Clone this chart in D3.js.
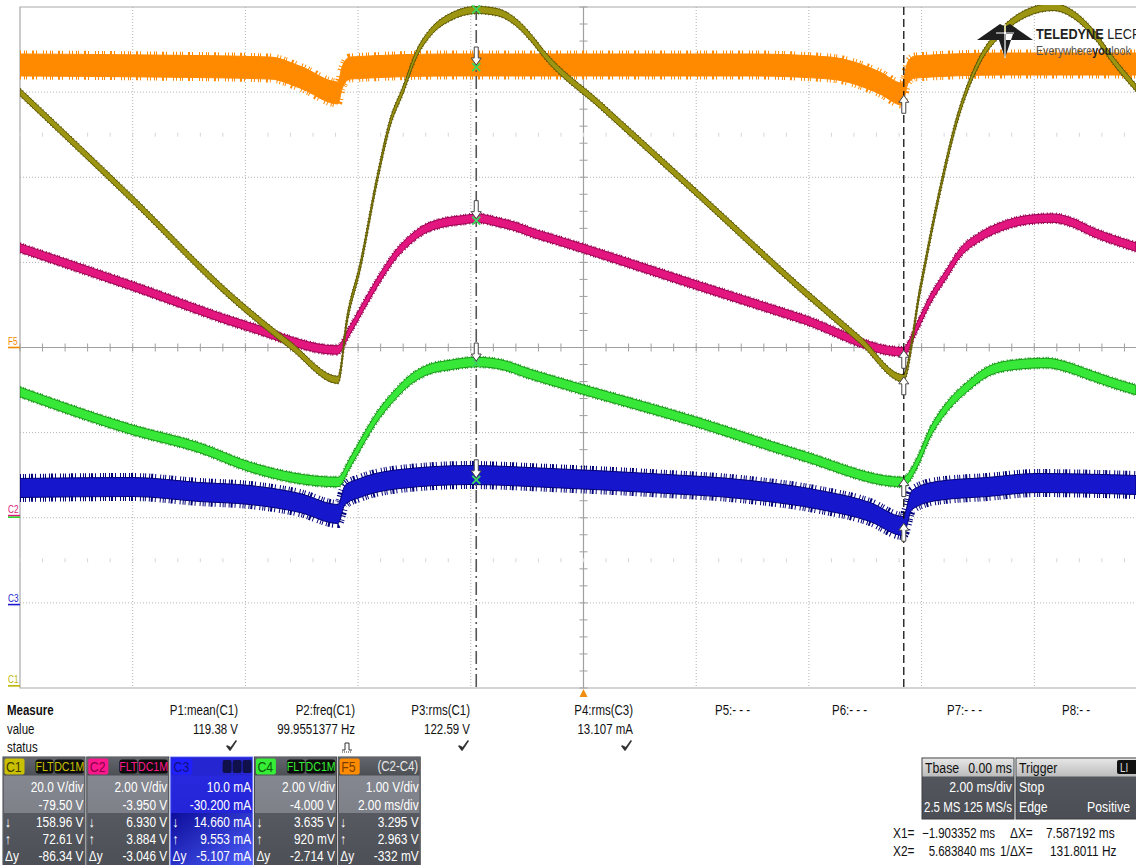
<!DOCTYPE html>
<html>
<head>
<meta charset="utf-8">
<script src="https://cdn.jsdelivr.net/npm/d3@7"></script>
<style>
  body { margin: 0; background: #fff; overflow: hidden; }
  svg { display: block; }
  text { font-family: "Liberation Sans", Arial, sans-serif; }
</style>
</head>
<body>
<div id="scope"></div>
<script>
// ---- trace data: [time ms, value] ----
const c1Trace = [[-10.0,139.5],[-7.995,114.2],[-6.22,91.1],[-5.208,80.1],[-4.357,71.9],[-4.197,86.0],
  [-3.966,98.4],[-3.665,118.9],[-3.434,132.2],[-3.203,140.0],[-2.955,148.7],[-2.724,153.4],[-2.37,157.1],
  [-1.89,158.8],[-1.535,158.3],[-1.18,155.7],[-0.896,151.7],[-0.719,148.7],[0.293,136.5],[2.067,115.1],
  [3.842,93.5],[4.907,81.3],[5.67,72.3],[5.972,93.0],[6.29,114.2],[6.628,133.0],[7.036,147.1],[7.444,154.1],
  [7.87,158.1],[8.332,159.5],[8.758,157.1],[9.042,153.4],[9.397,147.0],[9.805,140.5]];

const c2Trace = [[-10.0,6.29],[-7.995,5.39],[-5.918,4.43],[-4.374,3.89],[-4.144,4.36],[-3.842,5.07],
  [-3.558,5.70],[-3.31,6.17],[-3.079,6.48],[-2.848,6.71],[-2.493,6.88],[-2.138,6.95],[-1.89,6.99],
  [-1.535,6.90],[-1.18,6.78],[-0.896,6.64],[-0.594,6.52],[2.067,5.39],[3.842,4.64],[5.67,3.85],
  [5.918,4.43],[6.149,5.07],[6.451,5.70],[6.681,6.17],[7.036,6.55],[7.391,6.78],[7.87,6.95],[8.332,6.99],
  [8.687,6.88],[9.042,6.66],[9.521,6.43],[9.805,6.31]];

const c3Trace = [[-10.0,13.70],[-7.995,13.81],[-6.806,13.22],[-5.918,12.87],[-5.031,11.93],[-4.357,10.64],
  [-4.232,12.87],[-3.966,13.70],[-3.256,14.75],[-2.014,15.22],[-0.594,14.87],[1.18,14.28],[2.955,13.46],
  [4.197,12.29],[5.084,10.88],[5.67,9.23],[5.83,12.29],[6.273,13.34],[7.161,13.81],[8.048,14.28],[9.805,14.05]];

const c4Trace = [[-10.0,2.955],[-7.995,2.062],[-6.806,1.64],[-5.918,1.193],[-4.357,0.84],[-4.144,1.288],
  [-3.913,1.826],[-3.665,2.367],[-3.381,2.837],[-3.079,3.236],[-2.777,3.471],[-2.369,3.589],[-1.89,3.659],
  [-1.429,3.589],[-0.949,3.377],[-0.594,3.236],[2.067,2.226],[3.842,1.474],[5.67,0.84],[5.918,1.288],
  [6.149,1.992],[6.451,2.602],[6.806,3.072],[7.161,3.424],[7.622,3.589],[8.225,3.636],[8.58,3.542],
  [8.935,3.377],[9.397,3.166],[9.805,3.002]];

const f5Trace = [[-10.0,3.319],[-7.693,3.307],[-5.563,3.283],[-5.031,3.177],[-4.357,2.990],[-4.286,3.165],
  [-4.144,3.283],[-2.369,3.319],[0.293,3.319],[2.955,3.319],[4.374,3.283],[5.262,3.107],[5.652,2.978],
  [5.759,3.231],[5.883,3.295],[7.391,3.330],[9.805,3.330]];

// ---- readouts ----
const chanNames   = ["C1", "C2", "C3", "C4", "F5"];
const chanVdiv    = [20.0, 2.00, 10.0, 2.00, 1.00];
const chanOffset  = [-79.50, -3.950, -30.200, -4.000, 0];
const chanLine1   = ["20.0 V/div", "2.00 V/div", "10.0 mA", "2.00 V/div", "1.00 V/div"];
const chanLine2   = ["-79.50 V", "-3.950 V", "-30.200 mA", "-4.000 V", "2.00 ms/div"];
const cursorAt1   = [158.96, 6.930, 14.660, 3.635, 3.295];
const cursorAt2   = [72.61, 3.884, 9.553, 0.920, 2.963];
const cursorText1 = ["158.96 V", "6.930 V", "14.660 mA", "3.635 V", "3.295 V"];
const cursorText2 = ["72.61 V", "3.884 V", "9.553 mA", "920 mV", "2.963 V"];
const cursorDy    = ["-86.34 V", "-3.046 V", "-5.107 mA", "-2.714 V", "-332 mV"];

const measNames  = ["P1:mean(C1)", "P2:freq(C1)", "P3:rms(C1)", "P4:rms(C3)", "P5:- - -", "P6:- - -", "P7:- - -", "P8:- -"];
const measValues = ["119.38 V", "99.9551377 Hz", "122.59 V", "13.107 mA", "", "", "", ""];
const measStatus = ["check", "pulse", "check", "check", "", "", "", ""];

const cursorX1 = -1.903352, cursorX2 = 5.683840;   // ms
const timeDiv = 2.00;

// ---- layout ----
const width = 1136, height = 865;
const gridLeft = 20, gridTop = 7, gridBottom = 688, divW = 112.7;
const narrow = 0.82;   // scope font is condensed

const svg = d3.select("#scope").append("svg")
    .attr("width", width)
    .attr("height", height);

// condensed text helper
function tx(sel, xp, yp, str, size) {
  return sel.append("text")
    .attr("transform", `translate(${xp},${yp}) scale(${narrow},1)`)
    .attr("font-size", size)
    .text(str);
}

const defs = svg.append("defs");
defs.append("clipPath").attr("id", "screen")
  .append("rect").attr("x", gridLeft).attr("y", gridTop - 2)
  .attr("width", width - gridLeft).attr("height", gridBottom - gridTop + 4);

function vGrad(id, stops) {
  const g = defs.append("linearGradient").attr("id", id)
    .attr("x1", 0).attr("y1", 0).attr("x2", 0).attr("y2", 1);
  stops.forEach(s => g.append("stop").attr("offset", s[0]).attr("stop-color", s[1]));
}
vGrad("boxTop", [[0, "#888b93"], [1, "#72757c"]]);
vGrad("boxLow", [[0, "#56595f"], [1, "#4b4e54"]]);
vGrad("boxHead", [[0, "#62656b"], [1, "#4c4f54"]]);
vGrad("blueTop", [[0, "#2a2ae0"], [1, "#1c1ccf"]]);
vGrad("lightHead", [[0, "#e6e6e6"], [1, "#bcbcbc"]]);
const bg = defs.append("linearGradient").attr("id", "blueLow")
  .attr("x1", 0).attr("y1", 0).attr("x2", 1).attr("y2", 1);
bg.append("stop").attr("offset", 0).attr("stop-color", "#0d0d9a");
bg.append("stop").attr("offset", 1).attr("stop-color", "#4f62ff");

const x = d3.scaleLinear().domain([-10, 10]).range([gridLeft, gridLeft + divW * 10]);
const yDiv = d3.scaleLinear().domain([-4, 4]).range([gridBottom, gridTop]);

function chanScale(i) {
  const v = chanVdiv[i], o = chanOffset[i];
  return d3.scaleLinear().domain([-4 * v - o, 4 * v - o]).range([gridBottom, gridTop]);
}

// ---- grid ----
const grid = svg.append("g");
const gridColor = "#b4b4b4";
d3.range(-8, 10, 2).filter(t => t !== 0).forEach(t => {
  grid.append("line").attr("x1", x(t)).attr("x2", x(t)).attr("y1", gridTop).attr("y2", gridBottom)
    .attr("stroke", gridColor).attr("stroke-dasharray", "1,2");
});
d3.range(-3, 4).filter(d => d !== 0).forEach(d => {
  grid.append("line").attr("x1", gridLeft).attr("x2", width).attr("y1", yDiv(d)).attr("y2", yDiv(d))
    .attr("stroke", gridColor).attr("stroke-dasharray", "1,2");
});
grid.append("path")
  .attr("d", `M${width},${gridTop}H${gridLeft}V${gridBottom}H${width}`)
  .attr("fill", "none").attr("stroke", "#a9a9a9").attr("stroke-width", 1.2);
grid.append("line").attr("x1", gridLeft).attr("x2", width).attr("y1", yDiv(0)).attr("y2", yDiv(0))
  .attr("stroke", "#a0a0a0").attr("stroke-width", 1.2);
grid.append("line").attr("x1", x(0)).attr("x2", x(0)).attr("y1", gridTop).attr("y2", gridBottom)
  .attr("stroke", "#a0a0a0").attr("stroke-width", 1.2);
d3.range(-10, 10.01, timeDiv / 5).forEach(t => {
  grid.append("line").attr("x1", x(t)).attr("x2", x(t)).attr("y1", yDiv(0) - 4).attr("y2", yDiv(0) + 4)
    .attr("stroke", "#a0a0a0");
  [2.5, -2.5].forEach(d => {
    grid.append("line").attr("x1", x(t)).attr("x2", x(t)).attr("y1", yDiv(d) - 2).attr("y2", yDiv(d) + 2)
      .attr("stroke", "#d6d6d6");
  });
});
d3.range(-4, 4.01, 0.2).forEach(d => {
  grid.append("line").attr("x1", x(0) - 4).attr("x2", x(0) + 4).attr("y1", yDiv(d)).attr("y2", yDiv(d))
    .attr("stroke", "#a0a0a0");
});

// ---- traces: noisy bands ----
const traceStyle = [
  { data: c1Trace, ch: 0, fill: "#9c9512", edge: "#5e5900", half: 3.5, spike: 2, dash: "1,2,1,3" },
  { data: c2Trace, ch: 1, fill: "#e3157f", edge: "#9c0052", half: 4.2, spike: 3, dash: "1,2,1,1,1,3" },
  { data: c3Trace, ch: 2, fill: "#1616cc", edge: "#00007a", half: 9.5, spike: 9, dash: "1,2,1,1,1,3,1,1,2,2,1,4" },
  { data: c4Trace, ch: 3, fill: "#38e838", edge: "#179a17", half: 4.7, spike: 3, dash: "1,2,1,1,1,3" },
  { data: f5Trace, ch: 4, fill: "#ff8a00", edge: "#ff8a00", half: 11, spike: 7, dash: "1,3,1,1,1,5,2,2,1,6,1,2" }
];
const drawOrder = [4, 2, 3, 1, 0];
const traces = svg.append("g").attr("clip-path", "url(#screen)");
drawOrder.forEach(k => {
  const s = traceStyle[k];
  const sy = chanScale(s.ch);
  const band = d3.area()
    .x(d => x(d[0]))
    .y0(d => sy(d[1]) - s.half)
    .y1(d => sy(d[1]) + s.half)
    .curve(d3.curveMonotoneX);
  [-1, 1].forEach(side => {
    const rim = d3.line()
      .x(d => x(d[0]))
      .y(d => sy(d[1]) + side * s.half)
      .curve(d3.curveMonotoneX);
    traces.append("path").datum(s.data)
      .attr("d", rim)
      .attr("fill", "none")
      .attr("stroke", s.edge)
      .attr("stroke-width", s.spike)
      .attr("stroke-dasharray", s.dash);
  });
  traces.append("path").datum(s.data)
    .attr("d", band)
    .attr("fill", s.fill)
    .attr("stroke", s.edge)
    .attr("stroke-width", 1);
});

// ---- cursors ----
svg.append("line").attr("x1", x(cursorX1)).attr("x2", x(cursorX1)).attr("y1", gridTop).attr("y2", gridBottom)
  .attr("stroke", "#555").attr("stroke-width", 1.6).attr("stroke-dasharray", "13,4,2,4");
svg.append("line").attr("x1", x(cursorX2)).attr("x2", x(cursorX2)).attr("y1", gridTop).attr("y2", gridBottom)
  .attr("stroke", "#111").attr("stroke-width", 1.3).attr("stroke-dasharray", "8,4");

function arrow(cx, ty, down) {
  const s = down ? -1 : 1;
  return `M${cx},${ty}L${cx - 5},${ty + s * 7}L${cx - 2},${ty + s * 7}L${cx - 2},${ty + s * 18}` +
         `L${cx + 2},${ty + s * 18}L${cx + 2},${ty + s * 7}L${cx + 5},${ty + s * 7}Z`;
}
const marks = svg.append("g");
[4, 1, 3, 2].forEach(i => {
  const sy = chanScale(i);
  marks.append("path").attr("d", arrow(x(cursorX1), sy(cursorAt1[i]) - 2, true))
    .attr("fill", "#fff").attr("stroke", "#444").attr("stroke-width", 1);
});
[4, 1, 0, 3, 2].forEach(i => {
  const sy = chanScale(i);
  marks.append("path").attr("d", arrow(x(cursorX2), sy(cursorAt2[i]), false))
    .attr("fill", "#fff").attr("stroke", "#444").attr("stroke-width", 1);
});
[0, 4, 1, 3, 2].forEach(i => {
  const cx = x(cursorX1), cy = chanScale(i)(cursorAt1[i]);
  marks.append("path").attr("d", `M${cx - 4},${cy - 4}L${cx + 4},${cy + 4}M${cx - 4},${cy + 4}L${cx + 4},${cy - 4}`)
    .attr("stroke", "#3ad85a").attr("stroke-width", 1.8);
});

// trigger position marker
svg.append("path").attr("d", `M${x(0) - 4},${gridBottom + 9}L${x(0) + 4},${gridBottom + 9}L${x(0)},${gridBottom + 1}Z`)
  .attr("fill", "#f08c10");

// ---- channel ground markers on the left ----
const chanColor = ["#bdb500", "#e0157c", "#1a1acc", "#2fd82f", "#f08a00"];
const leftMarks = [[4, "F5", [4]], [1, "C2", [1, 3]], [2, "C3", [2]], [0, "C1", [0]]];
leftMarks.forEach(m => {
  const y0 = chanScale(m[0])(0);
  tx(svg, 8, y0 - 3, m[1], 10).attr("fill", chanColor[m[0]]);
  m[2].forEach((c, j) => {
    svg.append("line").attr("x1", 8).attr("x2", 20).attr("y1", y0 + j * 1.6).attr("y2", y0 + j * 1.6)
      .attr("stroke", chanColor[c]).attr("stroke-width", 1.6);
  });
});

// ---- logo ----
const logo = svg.append("g");
logo.append("path")
  .attr("d", "M977,40L1000,24L1004,26L1004,40Z M1033,40L1010,24L1006,26L1006,40Z M997,34L1013,34L1005,58Z")
  .attr("fill", "#1e1e1e");
logo.append("path").attr("d", "M1005,24V58 M996,33H1014").attr("stroke", "#fff").attr("stroke-width", 1.2);
tx(logo, 1036, 39, null, 15.5).attr("fill", "#222")
  .html('<tspan font-weight="bold">TELEDYNE</tspan> LECROY');
tx(logo, 1036, 55, null, 13).attr("fill", "#555")
  .html('Everywhere<tspan font-weight="bold" fill="#222">you</tspan>look');

// ---- measure table ----
const meas = svg.append("g").attr("fill", "#111");
tx(meas, 7, 715, "Measure", 14).attr("font-weight", "bold");
tx(meas, 7, 734, "value", 14);
tx(meas, 7, 752, "status", 14);
const measRight = [238, 355, 470, 633, 748, 865, 980, 1095];
measNames.forEach((n, i) => {
  const r = measRight[i];
  if (i < 4) {
    tx(meas, r, 715, n, 14).attr("text-anchor", "end");
    tx(meas, r, 734, measValues[i], 14).attr("text-anchor", "end");
  } else {
    tx(meas, r - 33, 715, n, 14);
  }
  if (measStatus[i] === "check") {
    meas.append("path").attr("d", `M${r - 11},${746}L${r - 8},${750}L${r - 2},${741}L${r - 7},${748}Z`)
      .attr("fill", "#333").attr("stroke", "#333").attr("stroke-width", 1.6).attr("stroke-linejoin", "round");
  } else if (measStatus[i] === "pulse") {
    meas.append("path").attr("d", `M${r - 13},${750}H${r - 10}V${743}H${r - 6}V${750}H${r - 3}`)
      .attr("fill", "none").attr("stroke", "#333").attr("stroke-width", 1);
    meas.append("line").attr("x1", r - 13).attr("x2", r - 3).attr("y1", 752).attr("y2", 752)
      .attr("stroke", "#333").attr("stroke-dasharray", "1,1");
  }
});

// ---- channel boxes ----
const badgeFill = ["#c9c100", "#ff178e", "#2020ff", "#35ee35", "#ff8c00"];
const badgeText = ["#403c00", "#8a0045", "#101080", "#0c5a0c", "#7a3c00"];
const boxTop = 757, boxW = 82, boxStep = 83.8;
chanNames.forEach((name, i) => {
  const x0 = 3 + i * boxStep;
  const g = svg.append("g");
  const blue = name === "C3";
  g.append("rect").attr("x", x0).attr("y", boxTop).attr("width", boxW).attr("height", 120)
    .attr("fill", blue ? "url(#blueTop)" : "url(#boxTop)").attr("stroke", blue ? "#6a78ff" : "#3c3e42");
  g.append("rect").attr("x", x0 + 0.5).attr("y", boxTop + 0.5).attr("width", boxW - 1).attr("height", 18)
    .attr("fill", blue ? "#2525d2" : "url(#boxHead)");
  g.append("rect").attr("x", x0 + 0.5).attr("y", 813).attr("width", boxW - 1).attr("height", 60)
    .attr("fill", blue ? "url(#blueLow)" : "url(#boxLow)");
  g.append("rect").attr("x", x0 + 1.5).attr("y", boxTop + 1.5).attr("width", 20).attr("height", 16).attr("rx", 2)
    .attr("fill", badgeFill[i]);
  tx(g, x0 + 3, boxTop + 14.5, name, 15).attr("fill", badgeText[i]);
  if (name === "F5") {
    tx(g, x0 + boxW - 2, boxTop + 14, "(C2-C4)", 14).attr("text-anchor", "end").attr("fill", "#e8e8e8");
  } else if (blue) {
    [0, 1, 2].forEach(k => {
      g.append("rect").attr("x", x0 + 52 + k * 10).attr("y", boxTop + 3).attr("width", 9).attr("height", 13).attr("rx", 2)
        .attr("fill", "#10104a");
    });
  } else {
    [["FLT", 32.5, 18], ["DC1M", 51.5, 29.5]].forEach(b => {
      g.append("rect").attr("x", x0 + b[1]).attr("y", boxTop + 2.5).attr("width", b[2]).attr("height", 14).attr("rx", 3)
        .attr("fill", "#0c0c0c");
      tx(g, x0 + b[1] + b[2] / 2, boxTop + 14, b[0], 13).attr("text-anchor", "middle").attr("fill", badgeFill[i]);
    });
  }
  const rows = [chanLine1[i], chanLine2[i], cursorText1[i], cursorText2[i], cursorDy[i]];
  const rowY = [792, 809.5, 827, 844, 861];
  rows.forEach((t, r) => {
    tx(g, x0 + boxW - 1.5, rowY[r], t, 14.5).attr("text-anchor", "end").attr("fill", "#fff");
  });
  ["\u2193", "\u2191", "\u0394y"].forEach((s, r) => {
    tx(g, x0 + 2, rowY[r + 2], s, 14.5).attr("fill", "#fff");
  });
});

// ---- timebase / trigger ----
const tb = svg.append("g");
tb.append("rect").attr("x", 922).attr("y", 758).attr("width", 92).attr("height", 61).attr("fill", "url(#boxLow)").attr("stroke", "#3c3e42");
tb.append("rect").attr("x", 922.5).attr("y", 758.5).attr("width", 91).attr("height", 18).attr("fill", "url(#lightHead)");
tx(tb, 925, 773, "Tbase", 15).attr("fill", "#111");
tx(tb, 1012, 773, "0.00 ms", 15).attr("text-anchor", "end").attr("fill", "#111");
tx(tb, 1012, 792, "2.00 ms/div", 15).attr("text-anchor", "end").attr("fill", "#fff");
tx(tb, 924, 812, "2.5 MS", 14).attr("fill", "#fff");
tx(tb, 1012, 812, "125 MS/s", 14).attr("text-anchor", "end").attr("fill", "#fff");

tb.append("rect").attr("x", 1016).attr("y", 758).attr("width", 130).attr("height", 61).attr("fill", "url(#boxLow)").attr("stroke", "#3c3e42");
tb.append("rect").attr("x", 1016.5).attr("y", 758.5).attr("width", 129).attr("height", 18).attr("fill", "url(#lightHead)");
tx(tb, 1019, 773, "Trigger", 15).attr("fill", "#111");
tb.append("rect").attr("x", 1117).attr("y", 760).attr("width", 22).attr("height", 14).attr("rx", 2).attr("fill", "#111");
tx(tb, 1120, 772, "LI", 12).attr("fill", "#ddd");
tx(tb, 1019, 792, "Stop", 15).attr("fill", "#fff");
tx(tb, 1019, 812, "Edge", 15).attr("fill", "#fff");
tx(tb, 1087, 812, "Positive", 15).attr("fill", "#fff");

const cur = svg.append("g").attr("fill", "#111");
tx(cur, 893, 838, "X1=", 14.5);
tx(cur, 995, 838, d3.format(".6f")(cursorX1) + " ms", 14).attr("text-anchor", "end");
tx(cur, 1010, 838, "\u0394X=", 14.5);
tx(cur, 1046, 838, d3.format(".6f")(cursorX2 - cursorX1) + " ms", 14.5);
tx(cur, 893, 856, "X2=", 14.5);
tx(cur, 995, 856, d3.format(".6f")(cursorX2) + " ms", 14).attr("text-anchor", "end");
tx(cur, 1000, 856, "1/\u0394X=", 14.5);
tx(cur, 1050, 856, d3.format(".4f")(1000 / (cursorX2 - cursorX1)) + " Hz", 14.5);
</script>
</body>
</html>
